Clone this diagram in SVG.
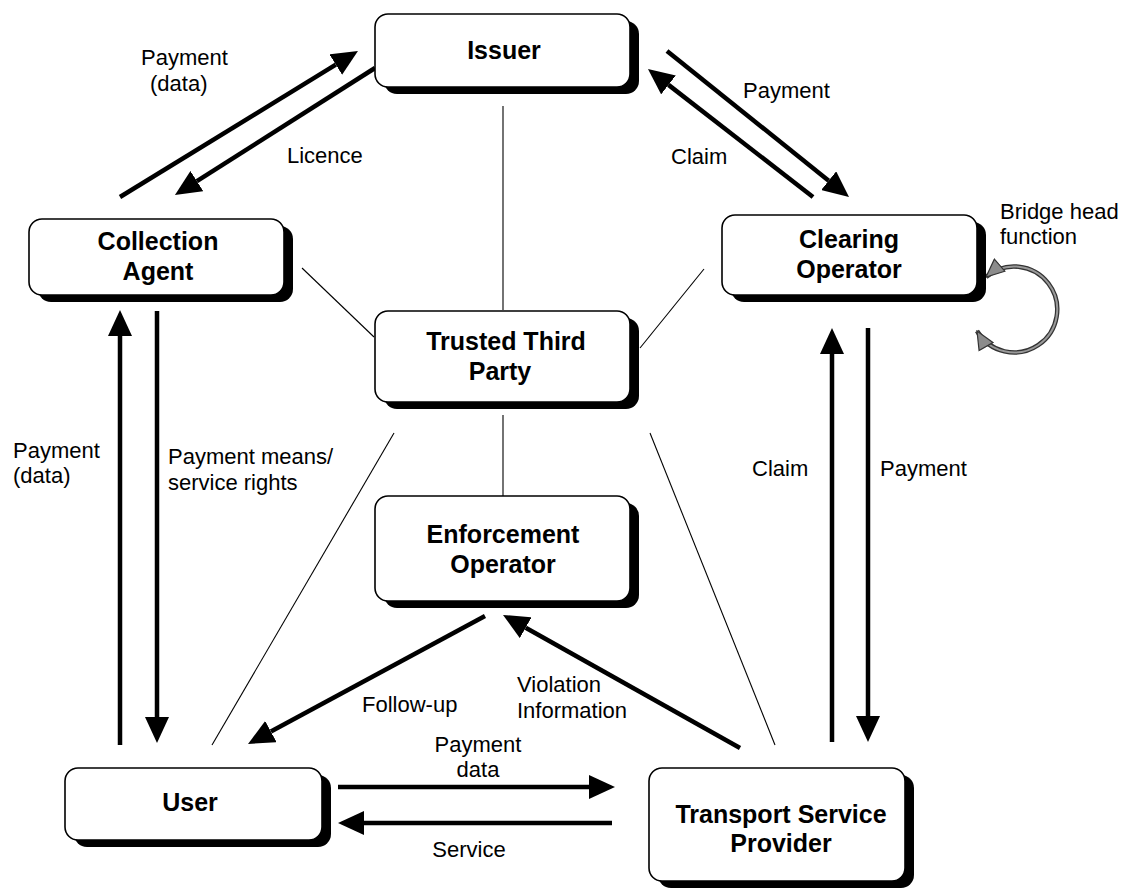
<svg xmlns="http://www.w3.org/2000/svg" width="1142" height="889" viewBox="0 0 1142 889">
  <style>
    .shadow { fill: #000; }
    .box { fill: #fff; stroke: #000; stroke-width: 1.6; }
    .name { font-family: "Liberation Sans", Arial, sans-serif; font-size: 25px; font-weight: bold; fill: #000; text-anchor: middle; }
    .lbl { font-family: "Liberation Sans", Arial, sans-serif; font-size: 22px; fill: #000; }
    .mid { text-anchor: middle; }
    .thin { stroke: #000; stroke-width: 1.1; fill: none; }
    .flow { stroke: #000; stroke-width: 4.5; fill: none; marker-end: url(#head); }
    .loop-out { stroke: #333; stroke-width: 4.5; fill: none; }
    .loop-in { stroke: #999; stroke-width: 2; fill: none; }
  </style>
  <defs>
    <marker id="head" markerUnits="userSpaceOnUse" viewBox="0 0 26 24" markerWidth="26" markerHeight="24" refX="0" refY="12" orient="auto">
      <path d="M0,0 L26,12 L0,24 z" fill="#000"/>
    </marker>
    <marker id="loopHead" markerUnits="userSpaceOnUse" viewBox="0 0 20 18" markerWidth="20" markerHeight="18" refX="19" refY="9" orient="auto-start-reverse">
      <path d="M1,1 L19,9 L1,17 z" fill="#8c8c8c" stroke="#333" stroke-width="1.2"/>
    </marker>
  </defs>

  <rect width="1142" height="889" fill="#fff"/>

  <!-- connectors -->
  <g id="connectors">
    <!-- thin association lines to the trusted third party -->
    <line class="thin" x1="503" y1="106" x2="503" y2="310"/>
    <line class="thin" x1="503" y1="415" x2="503" y2="496"/>
    <line class="thin" x1="302" y1="268" x2="374" y2="337"/>
    <line class="thin" x1="704" y1="269" x2="640" y2="348"/>
    <line class="thin" x1="394" y1="433" x2="212" y2="745"/>
    <line class="thin" x1="650" y1="433" x2="775" y2="745"/>

    <!-- collection agent <-> issuer -->
    <line class="flow" x1="120" y1="197" x2="335.8" y2="64.6"/>
    <line class="flow" x1="375" y1="68" x2="196.9" y2="181.1"/>
    <!-- issuer <-> clearing operator -->
    <line class="flow" x1="667" y1="51" x2="828.7" y2="180.7"/>
    <line class="flow" x1="813" y1="197" x2="668.5" y2="84.9"/>
    <!-- user <-> collection agent -->
    <line class="flow" x1="120" y1="745" x2="120" y2="336"/>
    <line class="flow" x1="157" y1="311" x2="157" y2="717"/>
    <!-- transport service provider <-> clearing operator -->
    <line class="flow" x1="832" y1="742" x2="832" y2="354"/>
    <line class="flow" x1="868" y1="328" x2="868" y2="716"/>
    <!-- enforcement -->
    <line class="flow" x1="485" y1="616" x2="270.9" y2="731.6"/>
    <line class="flow" x1="740" y1="748" x2="525.7" y2="627.7"/>
    <!-- user <-> transport service provider -->
    <line class="flow" x1="338" y1="787" x2="589" y2="787"/>
    <line class="flow" x1="612" y1="823" x2="364" y2="823"/>

    <!-- bridge head self loop -->
    <path class="loop-out" d="M986,277 A43,43 0 1 1 977,331"/>
    <path class="loop-in" d="M986,277 A43,43 0 1 1 977,331" marker-start="url(#loopHead)" marker-end="url(#loopHead)"/>

    <!-- connector labels -->
    <text class="lbl" x="141" y="65">Payment</text>
    <text class="lbl" x="150" y="91">(data)</text>
    <text class="lbl" x="287" y="163">Licence</text>
    <text class="lbl" x="743" y="98">Payment</text>
    <text class="lbl" x="671" y="164">Claim</text>
    <text class="lbl" x="1000" y="219">Bridge head</text>
    <text class="lbl" x="1000" y="244">function</text>
    <text class="lbl" x="13" y="458">Payment</text>
    <text class="lbl" x="13" y="483">(data)</text>
    <text class="lbl" x="168" y="464">Payment means/</text>
    <text class="lbl" x="168" y="490">service rights</text>
    <text class="lbl" x="752" y="476">Claim</text>
    <text class="lbl" x="880" y="476">Payment</text>
    <text class="lbl" x="362" y="712">Follow-up</text>
    <text class="lbl" x="517" y="692">Violation</text>
    <text class="lbl" x="517" y="718">Information</text>
    <text class="lbl mid" x="478" y="752">Payment</text>
    <text class="lbl mid" x="478" y="777">data</text>
    <text class="lbl mid" x="469" y="857">Service</text>
  </g>

  <!-- nodes -->
  <g id="issuer">
    <rect class="shadow" x="384" y="21" width="255" height="73" rx="13"/>
    <rect class="box" x="375" y="14" width="255" height="73" rx="13"/>
    <text class="name" x="504" y="59">Issuer</text>
  </g>
  <g id="collection-agent">
    <rect class="shadow" x="38" y="226" width="255" height="76" rx="13"/>
    <rect class="box" x="29" y="219" width="255" height="76" rx="13"/>
    <text class="name" x="158" y="250">Collection</text>
    <text class="name" x="158" y="280">Agent</text>
  </g>
  <g id="clearing-operator">
    <rect class="shadow" x="731" y="222" width="255" height="80" rx="13"/>
    <rect class="box" x="722" y="215" width="255" height="80" rx="13"/>
    <text class="name" x="849" y="248">Clearing</text>
    <text class="name" x="849" y="278">Operator</text>
  </g>
  <g id="trusted-third-party">
    <rect class="shadow" x="384" y="318" width="255" height="91" rx="13"/>
    <rect class="box" x="375" y="311" width="255" height="91" rx="13"/>
    <text class="name" x="506" y="350">Trusted Third</text>
    <text class="name" x="500" y="380">Party</text>
  </g>
  <g id="enforcement-operator">
    <rect class="shadow" x="384" y="503" width="255" height="105" rx="13"/>
    <rect class="box" x="375" y="496" width="255" height="105" rx="13"/>
    <text class="name" x="503" y="543">Enforcement</text>
    <text class="name" x="503" y="573">Operator</text>
  </g>
  <g id="user">
    <rect class="shadow" x="74" y="775" width="257" height="72" rx="13"/>
    <rect class="box" x="65" y="768" width="257" height="72" rx="13"/>
    <text class="name" x="190" y="811">User</text>
  </g>
  <g id="transport-service-provider">
    <rect class="shadow" x="658" y="775" width="256" height="113" rx="13"/>
    <rect class="box" x="649" y="768" width="256" height="113" rx="13"/>
    <text class="name" x="781" y="823">Transport Service</text>
    <text class="name" x="781" y="852">Provider</text>
  </g>
</svg>
